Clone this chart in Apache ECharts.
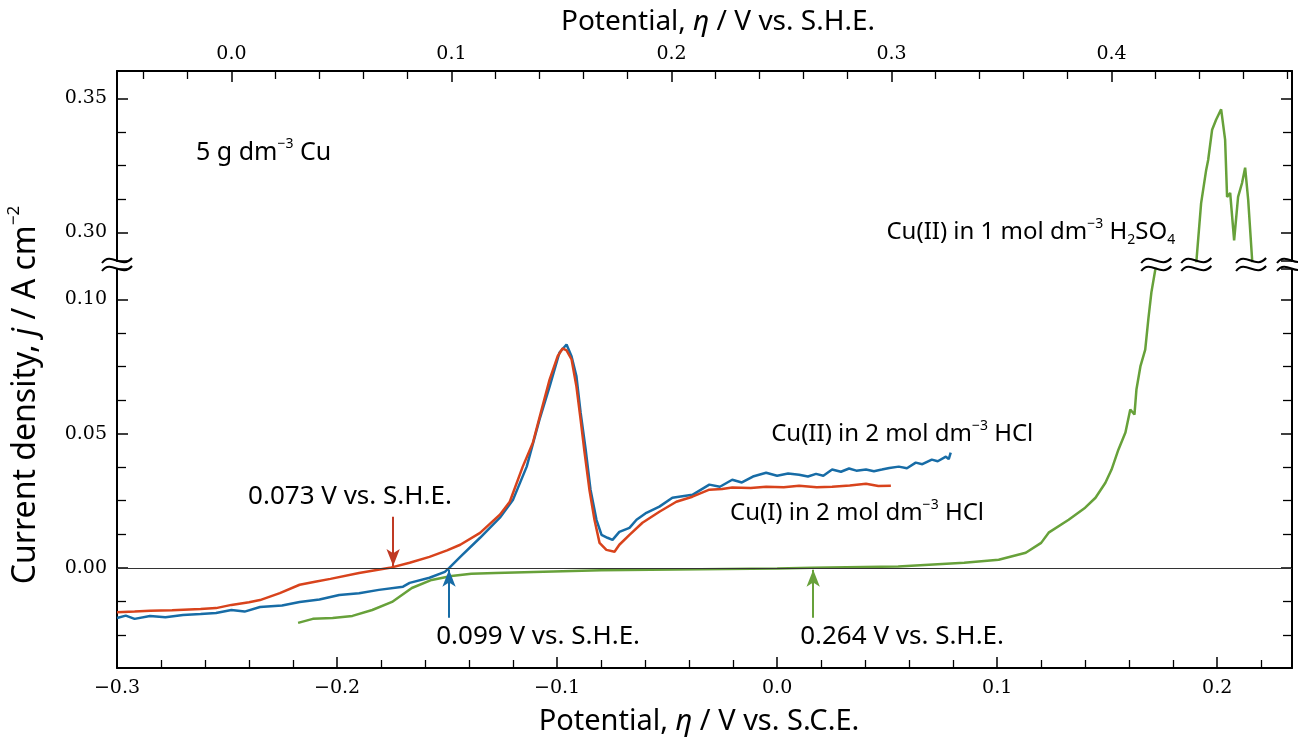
<!DOCTYPE html>
<html>
<head>
<meta charset="utf-8">
<script src="https://cdn.jsdelivr.net/npm/echarts@6/dist/echarts.min.js"></script>
<style>
html, body { margin: 0; padding: 0; background: #fff; }
#main { width: 1298px; height: 741px; }
</style>
</head>
<body>
<div id="main"></div>
<script>
// potential (V vs. S.C.E.), current density (A cm-2)
const cuIHcl = [
  [-0.300, -0.0165], [-0.292, -0.0163], [-0.285, -0.0160], [-0.275, -0.0158], [-0.262, -0.0153],
  [-0.255, -0.0150], [-0.248, -0.0138], [-0.240, -0.0128], [-0.235, -0.0120], [-0.226, -0.0094],
  [-0.217, -0.0063], [-0.210, -0.0052], [-0.203, -0.0041], [-0.190, -0.0019], [-0.176, 0.0000],
  [-0.167, 0.0019], [-0.158, 0.0041], [-0.150, 0.0065], [-0.144, 0.0086], [-0.135, 0.0130],
  [-0.126, 0.0198], [-0.1215, 0.0246], [-0.1156, 0.0377], [-0.111, 0.0466], [-0.107, 0.0590],
  [-0.1034, 0.0701], [-0.0998, 0.0787], [-0.0975, 0.0817], [-0.0957, 0.0810], [-0.0934, 0.0776],
  [-0.0912, 0.0675], [-0.0893, 0.0552], [-0.0875, 0.0429], [-0.0853, 0.0291], [-0.083, 0.0179],
  [-0.0807, 0.0093], [-0.0776, 0.0067], [-0.0739, 0.0060], [-0.0717, 0.0086], [-0.0671, 0.0123],
  [-0.0612, 0.0168], [-0.0535, 0.0209], [-0.0458, 0.0246], [-0.0385, 0.0265], [-0.0308, 0.0291],
  [-0.0250, 0.0294], [-0.0204, 0.0299], [-0.012, 0.0297], [-0.005, 0.0302], [0.003, 0.0300],
  [0.010, 0.0306], [0.018, 0.0300], [0.025, 0.0302], [0.033, 0.0307], [0.0404, 0.0313],
  [0.046, 0.0305], [0.0517, 0.0306]
];
const cuIIHcl = [
  [-0.300, -0.0187], [-0.296, -0.0178], [-0.292, -0.0190], [-0.285, -0.0179], [-0.278, -0.0184],
  [-0.270, -0.0176], [-0.262, -0.0172], [-0.255, -0.0168], [-0.248, -0.0157], [-0.242, -0.0163],
  [-0.235, -0.0146], [-0.225, -0.0140], [-0.217, -0.0127], [-0.208, -0.0118], [-0.199, -0.0101],
  [-0.190, -0.0095], [-0.181, -0.0082], [-0.170, -0.0070], [-0.167, -0.0056], [-0.158, -0.0037],
  [-0.151, -0.0015], [-0.149, 0.0000], [-0.144, 0.0041], [-0.135, 0.0112], [-0.126, 0.0187],
  [-0.120, 0.0254], [-0.1138, 0.0377], [-0.108, 0.0552], [-0.1034, 0.0675], [-0.0989, 0.0802],
  [-0.0957, 0.0832], [-0.0934, 0.0787], [-0.0912, 0.0713], [-0.0893, 0.0578], [-0.087, 0.0440],
  [-0.0848, 0.0291], [-0.0821, 0.0179], [-0.0798, 0.0123], [-0.0771, 0.0112], [-0.0748, 0.0104],
  [-0.0717, 0.0134], [-0.0671, 0.0149], [-0.0639, 0.0179], [-0.0594, 0.0205], [-0.0535, 0.0228],
  [-0.0476, 0.0261], [-0.0385, 0.0272], [-0.0308, 0.0310], [-0.026, 0.0302], [-0.0204, 0.0328],
  [-0.016, 0.0318], [-0.011, 0.0340], [-0.005, 0.0354], [0.000, 0.0343], [0.005, 0.0351],
  [0.010, 0.0347], [0.014, 0.0340], [0.0177, 0.0350], [0.021, 0.0343], [0.025, 0.0366],
  [0.029, 0.0358], [0.0327, 0.0370], [0.036, 0.0362], [0.0404, 0.0366], [0.044, 0.0360],
  [0.0476, 0.0366], [0.051, 0.0372], [0.0553, 0.0377], [0.059, 0.0371], [0.0630, 0.0392],
  [0.066, 0.0386], [0.0703, 0.0403], [0.073, 0.0397], [0.0767, 0.0414], [0.078, 0.0405],
  [0.0789, 0.0429]
];
// Cu(II) in H2SO4, below and above the axis break
const cuIIH2so4 = [
  [-0.2177, -0.0205], [-0.211, -0.0190], [-0.202, -0.0187], [-0.193, -0.0179], [-0.184, -0.0157],
  [-0.175, -0.0127], [-0.166, -0.0075], [-0.157, -0.0045], [-0.148, -0.0030], [-0.139, -0.0022],
  [-0.128, -0.0019], [-0.080, -0.0009], [-0.035, -0.0005], [0.000, -0.0002], [0.016, 0.0000],
  [0.055, 0.0005], [0.085, 0.0019], [0.1007, 0.0030], [0.113, 0.0056], [0.120, 0.0093],
  [0.1234, 0.0131], [0.1325, 0.0179], [0.140, 0.0224], [0.1447, 0.0261], [0.1492, 0.0317],
  [0.152, 0.0366], [0.1551, 0.0440], [0.1583, 0.0504], [0.1605, 0.0590], [0.1624, 0.0571],
  [0.1633, 0.0664], [0.1651, 0.0750], [0.1673, 0.0813], [0.1687, 0.0925], [0.1701, 0.1026],
  [0.1719, 0.1112], [0.1724, 0.1140]
];
const cuIIH2so4Peak = [
  [0.1896, 0.2860], [0.1905, 0.2887], [0.1927, 0.3109], [0.1950, 0.3233], [0.1959, 0.3270],
  [0.1977, 0.3383], [0.1995, 0.3420], [0.2018, 0.3459], [0.2036, 0.3346], [0.2045, 0.3132],
  [0.2059, 0.3147], [0.2077, 0.2970], [0.2095, 0.3132], [0.2113, 0.3184], [0.2127, 0.3241],
  [0.2141, 0.3120], [0.2159, 0.2895], [0.2163, 0.2860]
];

// onset arrows: [x, from y, to y]
const arrowCuI = [-0.1745, 0.0190, 0.0007];
const arrowCuII = [-0.1491, -0.0186, -0.0007];
const arrowH2so4 = [0.0164, -0.0186, -0.0007];

const sceToShe = 0.248;
const sceRange = [-0.3, 0.234];
const lowerRange = [-0.0373, 0.1113];
const upperRange = [0.2893, 0.3602];
const breakXs = [-0.3, 0.1723, 0.1905, 0.2154, 0.234];

const blue = '#176ca6';
const red = '#d8431c';
const green = '#67a13a';
const arrowRed = '#c03a24';

const textFont = '"Noto Sans", "Open Sans", sans-serif';
const numFont = '"DejaVu Serif", serif';

const fmtX = v => (Math.abs(v) < 1e-9 ? '0.0' : v.toFixed(1).replace('-', '\u2212'));
const fmtY = v => (Math.abs(v) < 1e-9 ? '0.00' : v.toFixed(2).replace('-', '\u2212'));

const axisLine = { show: true, onZero: false, lineStyle: { color: '#000', width: 2 } };
const axisTick = { show: true, inside: true, length: 11, lineStyle: { color: '#000', width: 1.5 } };
const minorX = { show: true, splitNumber: 5, length: 8, lineStyle: { color: '#000', width: 1.3 } };
const minorY = { show: true, splitNumber: 4, length: 9, lineStyle: { color: '#000', width: 1.3 } };

function yAx(grid, pos, range, labels) {
  return {
    type: 'value', gridIndex: grid, position: pos, min: range[0], max: range[1],
    minInterval: 0.05, maxInterval: 0.05, splitNumber: 3,
    axisLine: axisLine, axisTick: axisTick, minorTick: minorY, splitLine: { show: false },
    axisLabel: {
      show: labels, formatter: fmtY, color: '#000', fontFamily: numFont, fontSize: 19,
      margin: 10, showMinLabel: false, showMaxLabel: false
    }
  };
}

function arrowLine(a, color) {
  return {
    silent: true, animation: false,
    label: { show: false },
    lineStyle: { color: color, width: 2, type: 'solid' },
    symbolSize: [10, 17],
    data: [[
      { coord: [a[0], a[1]], symbol: 'none' },
      { coord: [a[0], a[2]], symbol: 'arrow' }
    ]]
  };
}

const option = {
  animation: false,
  backgroundColor: '#fff',
  grid: [
    { left: 117, right: 6, top: 71, height: 190, outerBoundsMode: 'none' },
    { left: 117, right: 6, top: 269, height: 399, outerBoundsMode: 'none' }
  ],
  xAxis: [
    { type: 'value', gridIndex: 0, min: sceRange[0], max: sceRange[1], show: false },
    {
      type: 'value', gridIndex: 0, position: 'top',
      min: sceRange[0] + sceToShe, max: sceRange[1] + sceToShe,
      minInterval: 0.1, maxInterval: 0.1, splitNumber: 5,
      axisLine: axisLine, axisTick: axisTick, minorTick: minorX, splitLine: { show: false },
      axisLabel: {
        formatter: fmtX, color: '#000', fontFamily: numFont, fontSize: 19, margin: 7,
        showMinLabel: false, showMaxLabel: false
      }
    },
    {
      type: 'value', gridIndex: 1, position: 'bottom', min: sceRange[0], max: sceRange[1],
      minInterval: 0.1, maxInterval: 0.1, splitNumber: 5,
      axisLine: axisLine, axisTick: axisTick, minorTick: minorX, splitLine: { show: false },
      axisLabel: {
        formatter: fmtX, color: '#000', fontFamily: numFont, fontSize: 19, margin: 11,
        showMinLabel: true, showMaxLabel: false
      }
    }
  ],
  yAxis: [
    yAx(0, 'left', upperRange, true),
    yAx(0, 'right', upperRange, false),
    yAx(1, 'left', lowerRange, true),
    yAx(1, 'right', lowerRange, false)
  ],
  series: [
    {
      name: 'Cu(II) in 1 mol dm-3 H2SO4', type: 'line', xAxisIndex: 2, yAxisIndex: 2,
      data: cuIIH2so4, showSymbol: false, symbol: 'none', clip: true,
      lineStyle: { color: green, width: 2.5 },
      markLine: {
        silent: true, symbol: 'none', label: { show: false },
        lineStyle: { color: '#333', width: 1.2, type: 'solid' },
        data: [{ yAxis: 0 }]
      }
    },
    {
      name: 'Cu(II) in 2 mol dm-3 HCl', type: 'line', xAxisIndex: 2, yAxisIndex: 2,
      data: cuIIHcl, showSymbol: false, symbol: 'none', clip: true,
      lineStyle: { color: blue, width: 2.5 },
      markLine: arrowLine(arrowCuII, blue)
    },
    {
      name: 'Cu(I) in 2 mol dm-3 HCl', type: 'line', xAxisIndex: 2, yAxisIndex: 2,
      data: cuIHcl, showSymbol: false, symbol: 'none', clip: true,
      lineStyle: { color: red, width: 2.5 },
      markLine: arrowLine(arrowCuI, arrowRed)
    },
    {
      name: 'Cu(II) in 1 mol dm-3 H2SO4 (peak)', type: 'line', xAxisIndex: 0, yAxisIndex: 0,
      data: cuIIH2so4Peak, showSymbol: false, symbol: 'none', clip: true,
      lineStyle: { color: green, width: 2.5 }
    },
    {
      name: 'onset', type: 'line', xAxisIndex: 2, yAxisIndex: 2, data: [],
      markLine: arrowLine(arrowH2so4, green)
    }
  ]
};

const chart = echarts.init(document.getElementById('main'));
chart.setOption(option);

// annotations
const rich = {
  t: { fontFamily: textFont, fontSize: 24, fill: '#000', lineHeight: 30 },
  v: { fontFamily: textFont, fontSize: 26, fill: '#000', lineHeight: 32 },
  big: { fontFamily: textFont, fontSize: 25, fill: '#000', lineHeight: 32 },
  ti: { fontFamily: textFont, fontSize: 29, fill: '#000', lineHeight: 36 },
  i: { fontFamily: textFont, fontSize: 29, fontStyle: 'italic', fill: '#000', lineHeight: 36 },
  tt: { fontFamily: textFont, fontSize: 28, fill: '#000', lineHeight: 36 },
  tti: { fontFamily: textFont, fontSize: 28, fontStyle: 'italic', fill: '#000', lineHeight: 36 },
  sup: { fontFamily: textFont, fontSize: 14, fill: '#000', lineHeight: 14, verticalAlign: 'top' },
  sub: { fontFamily: textFont, fontSize: 14, fill: '#000', lineHeight: 14, verticalAlign: 'bottom' },
  yt: { fontFamily: textFont, fontSize: 32, fill: '#000', lineHeight: 40 },
  yi: { fontFamily: textFont, fontSize: 32, fontStyle: 'italic', fill: '#000', lineHeight: 40 },
  ysup: { fontFamily: textFont, fontSize: 17, fill: '#000', lineHeight: 17, verticalAlign: 'top' }
};

const notes = [
  { text: '{big|5 g dm}{sup|\u22123}{big| Cu}', at: [-0.2641, 0.3296], upper: true, align: 'left' },
  { text: '{t|Cu(II) in 1 mol dm}{sup|\u22123}{t| H}{sub|2}{t|SO}{sub|4}', at: [0.1809, 0.300], upper: true, align: 'right' },
  { text: '{t|Cu(II) in 2 mol dm}{sup|\u22123}{t| HCl}', at: [-0.0027, 0.0499], align: 'left' },
  { text: '{t|Cu(I) in 2 mol dm}{sup|\u22123}{t| HCl}', at: [-0.0214, 0.0205], align: 'left' },
  { text: '{v|0.073 V vs. S.H.E.}', at: [-0.1941, 0.0264], align: 'center' },
  { text: '{v|0.099 V vs. S.H.E.}', at: [-0.1086, -0.0257], align: 'center' },
  { text: '{v|0.264 V vs. S.H.E.}', at: [0.0568, -0.0257], align: 'center' }
];

const graphic = [];
notes.forEach(n => {
  const p = chart.convertToPixel({ seriesIndex: n.upper ? 3 : 2 }, n.at);
  graphic.push({
    type: 'text', x: p[0], y: p[1], z: 20,
    style: { text: n.text, rich: rich, textAlign: n.align, textVerticalAlign: 'middle' }
  });
});

// axis titles
graphic.push({
  type: 'text', x: 718, y: 22, z: 20,
  style: { text: '{tt|Potential, }{tti|\u03b7}{tt| / V vs. S.H.E.}', rich: rich, textAlign: 'center', textVerticalAlign: 'middle' }
});
graphic.push({
  type: 'text', x: 699, y: 722, z: 20,
  style: { text: '{ti|Potential, }{i|\u03b7}{ti| / V vs. S.C.E.}', rich: rich, textAlign: 'center', textVerticalAlign: 'middle' }
});
graphic.push({
  type: 'text', x: 26, y: 395, rotation: Math.PI / 2, z: 20,
  style: { text: '{yt|Current density, }{yi|j}{yt| / A cm}{ysup|\u22122}', rich: rich, textAlign: 'center', textVerticalAlign: 'middle' }
});

// axis break marks
const yUp = chart.convertToPixel({ yAxisIndex: 0 }, upperRange[0]);
const yLo = chart.convertToPixel({ yAxisIndex: 2 }, lowerRange[1]);
breakXs.forEach(bx => {
  const cx = chart.convertToPixel({ xAxisIndex: 2 }, bx);
  [yUp, yLo].forEach(wy => {
    graphic.push({
      type: 'bezierCurve', z: 30,
      shape: { x1: cx - 15, y1: wy + 2, cpx1: cx - 6, cpy1: wy - 10, cpx2: cx + 5, cpy2: wy + 9, x2: cx + 15, y2: wy - 3 },
      style: { stroke: '#000', lineWidth: 2, fill: null }
    });
  });
});

chart.setOption({ graphic: graphic });
</script>
</body>
</html>
